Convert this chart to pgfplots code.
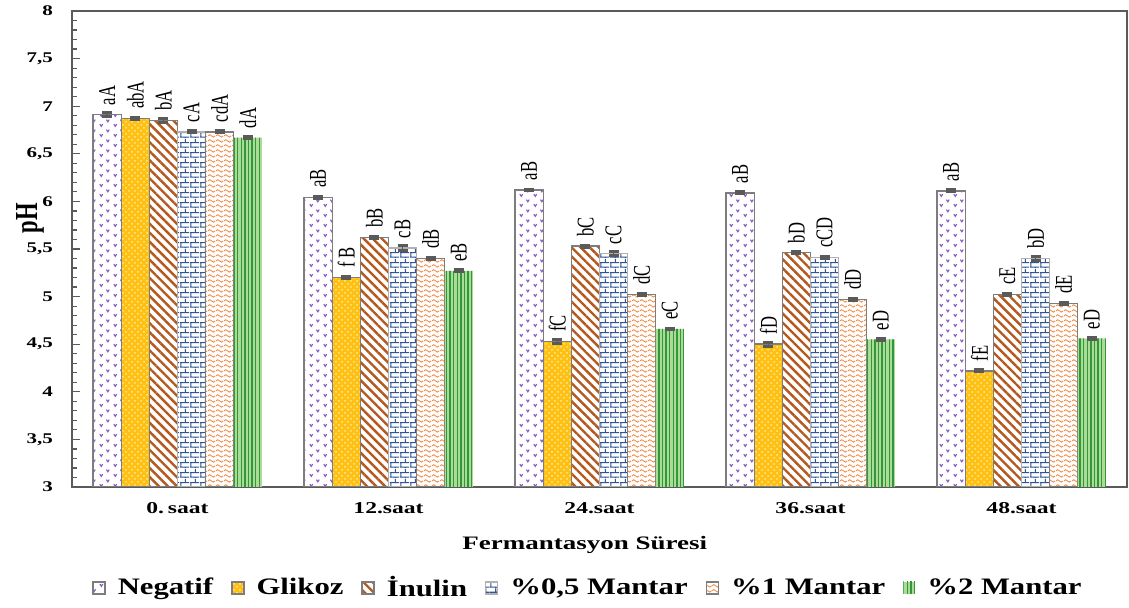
\documentclass[border=0pt]{standalone}
\usepackage{pgfplots}
\pgfplotsset{compat=1.18}
\usepackage{pgfplotstable}
\usepackage{fontspec}
\setmainfont{Liberation Serif}
\usetikzlibrary{patterns,patterns.meta}

\definecolor{cpurple}{RGB}{140,90,200}
\definecolor{cgold}{RGB}{255,192,20}
\definecolor{cgoldlt}{RGB}{255,232,150}
\definecolor{cbrown}{RGB}{180,88,30}
\definecolor{cblue}{RGB}{47,85,151}
\definecolor{corange}{RGB}{240,140,70}
\definecolor{cgreen}{RGB}{50,150,60}
\definecolor{cgreenlt}{RGB}{170,220,150}
\definecolor{cedge}{RGB}{125,125,125}
\definecolor{caxis}{RGB}{90,90,90}

\pgfplotsset{
  sqlegend/.style={legend image code/.code={\draw[##1] (0pt,-3pt) rectangle (6pt,3pt);}},
  sqlegendfill/.style={legend image code/.code={\fill[##1] (0pt,-3pt) rectangle (6pt,3pt);}},
}

\pgfdeclarepattern{
  name=vchev, type=uncolored,
  bottom left={\pgfpoint{0pt}{0pt}}, top right={\pgfpoint{7pt}{5pt}},
  tile size={\pgfpoint{7pt}{5pt}},
  code={
    \pgfsetlinewidth{0.6pt}
    \pgfpathmoveto{\pgfpoint{1.0pt}{2.1pt}}\pgfpathlineto{\pgfpoint{1.75pt}{0.9pt}}\pgfpathlineto{\pgfpoint{2.5pt}{2.1pt}}
    \pgfpathmoveto{\pgfpoint{4.5pt}{4.6pt}}\pgfpathlineto{\pgfpoint{5.25pt}{3.4pt}}\pgfpathlineto{\pgfpoint{6.0pt}{4.6pt}}
    \pgfusepath{stroke}
  }
}
\pgfdeclarepattern{
  name=waves, type=uncolored,
  bottom left={\pgfpoint{0pt}{0pt}}, top right={\pgfpoint{4pt}{2.5pt}},
  tile size={\pgfpoint{4pt}{2.5pt}},
  code={
    \pgfsetlinewidth{0.5pt}
    \pgfpathmoveto{\pgfpoint{0pt}{1.25pt}}
    \pgfpathcurveto{\pgfpoint{1pt}{2.2pt}}{\pgfpoint{1pt}{2.2pt}}{\pgfpoint{2pt}{1.25pt}}
    \pgfpathcurveto{\pgfpoint{3pt}{0.3pt}}{\pgfpoint{3pt}{0.3pt}}{\pgfpoint{4pt}{1.25pt}}
    \pgfusepath{stroke}
  }
}
\pgfdeclarepattern{
  name=mybricks, type=uncolored,
  bottom left={\pgfpoint{0pt}{0pt}}, top right={\pgfpoint{5pt}{5pt}},
  tile size={\pgfpoint{5pt}{5pt}},
  code={
    \pgfsetlinewidth{0.55pt}
    \pgfpathmoveto{\pgfpoint{0pt}{0.5pt}}\pgfpathlineto{\pgfpoint{5pt}{0.5pt}}
    \pgfpathmoveto{\pgfpoint{0pt}{3.0pt}}\pgfpathlineto{\pgfpoint{5pt}{3.0pt}}
    \pgfpathmoveto{\pgfpoint{0.5pt}{0.5pt}}\pgfpathlineto{\pgfpoint{0.5pt}{3.0pt}}
    \pgfpathmoveto{\pgfpoint{3.0pt}{3.0pt}}\pgfpathlineto{\pgfpoint{3.0pt}{5pt}}
    \pgfpathmoveto{\pgfpoint{3.0pt}{0pt}}\pgfpathlineto{\pgfpoint{3.0pt}{0.5pt}}
    \pgfusepath{stroke}
  }
}

\pgfplotstableread{
x y e lab
0 6.91 0.02 aA
1 6.04 0.01 aB
2 6.12 0.01 aB
3 6.09 0.01 aB
4 6.11 0.01 aB
}\tneg
\pgfplotstableread{
x y e lab
0 6.87 0.01 abA
1 5.20 0.01 f~B
2 4.53 0.02 fC
3 4.50 0.02 fD
4 4.22 0.01 fE
}\tgli
\pgfplotstableread{
x y e lab
0 6.85 0.02 bA
1 5.62 0.01 bB
2 5.53 0.01 bC
3 5.46 0.01 bD
4 5.02 0.01 cE
}\tinu
\pgfplotstableread{
x y e lab
0 6.73 0.01 cA
1 5.51 0.03 cB
2 5.45 0.02 cC
3 5.41 0.01 cCD
4 5.40 0.02 bD
}\tmanA
\pgfplotstableread{
x y e lab
0 6.73 0.01 cdA
1 5.40 0.01 dB
2 5.02 0.01 dC
3 4.97 0.01 dD
4 4.93 0.01 dE
}\tmanB
\pgfplotstableread{
x y e lab
0 6.67 0.01 dA
1 5.27 0.01 eB
2 4.66 0.01 eC
3 4.55 0.01 eD
4 4.56 0.01 eD
}\tmanC

\begin{document}
\begin{tikzpicture}
\begin{axis}[
  name=ax,
  scale only axis,
  width=527.5pt, height=238pt,
  xmin=-0.5, xmax=4.5, ymin=3, ymax=8,
  ybar=0pt, bar width=0.1333,
  xtick={0,1,2,3,4},
  xticklabels={\scalebox{1.42}[1]{0.\,saat},\scalebox{1.42}[1]{12.saat},\scalebox{1.42}[1]{24.saat},\scalebox{1.42}[1]{36.saat},\scalebox{1.42}[1]{48.saat}},
  x tick style={draw=none},
  ytick={3,3.5,4,4.5,5,5.5,6,6.5,7,7.5,8},
  minor y tick num=4,
  ytick pos=left,
  tick align=inside,
  major tick length=4pt, minor tick length=2.5pt,
  y tick style={caxis, line width=0.6pt},
  axis line style={caxis, line width=1pt},
  /pgf/number format/.cd, use comma, assume math mode=true, /pgfplots/.cd,
  yticklabel={\scalebox{1.42}[1]{\pgfmathprintnumber{\tick}}},
  yticklabel style={font=\bfseries\fontsize{7.4}{8}\selectfont, anchor=east, xshift=-6pt},
  xticklabel style={font=\bfseries\fontsize{8.3}{10}\selectfont, anchor=center, yshift=-10.5pt},
  ylabel={\scalebox{1}[1.42]{pH}},
  ylabel style={at={(axis description cs:-0.0398,0.565)}, anchor=center, font=\bfseries\fontsize{11.3}{13}\selectfont},
  xlabel={\scalebox{1.42}[1]{Fermantasyon Süresi}},
  xlabel style={at={(axis description cs:0.486,-0.122)}, anchor=center, font=\bfseries\fontsize{9.5}{11}\selectfont},
  legend columns=6,
  legend style={at={(0.49,-0.212)}, anchor=center, draw=none, fill=none,
    font=\bfseries\fontsize{11.8}{13}\selectfont,
    /tikz/every odd column/.append style={column sep=4pt},
    /tikz/every even column/.append style={column sep=7pt}},
  point meta=explicit symbolic,
  nodes near coords={\scalebox{1}[1.45]{\pgfplotspointmeta}},
  nodes near coords align=horizontal,
  every node near coord/.append style={yshift=3.5pt, rotate=90, anchor=west, text=black, inner sep=1pt, font=\fontsize{8.3}{9}\selectfont},
  error bars/y dir=both, error bars/y explicit,
  error bars/error bar style={caxis, line width=0.7pt},
  error bars/error mark options={rotate=90, caxis, line width=1.5pt, mark size=2.5pt},
]
\addplot[draw=cedge, line width=0.7pt, fill=white, postaction={pattern=vchev, pattern color=cpurple}, sqlegend]
  table[x=x,y=y,y error=e,meta=lab]{\tneg};
\addplot[draw=cedge, line width=0.7pt, fill=cgold, postaction={pattern=crosshatch dots, pattern color=cgoldlt}, sqlegend]
  table[x=x,y=y,y error=e,meta=lab]{\tgli};
\addplot[draw=cedge, line width=0.7pt, fill=white, postaction={pattern={Lines[angle=-45,distance=3.2pt,line width=1.2pt]}, pattern color=cbrown}, sqlegend]
  table[x=x,y=y,y error=e,meta=lab]{\tinu};
\addplot[draw=cedge!60, line width=0.7pt, fill=white, postaction={pattern=mybricks, pattern color=cblue}, sqlegend]
  table[x=x,y=y,y error=e,meta=lab]{\tmanA};
\addplot[draw=cedge, line width=0.7pt, fill=white, postaction={pattern=waves, pattern color=corange}, sqlegend]
  table[x=x,y=y,y error=e,meta=lab]{\tmanB};
\addplot[draw=none, fill=cgreenlt, postaction={pattern={Lines[angle=90,distance=1.8pt,line width=0.7pt]}, pattern color=cgreen}, sqlegendfill]
  table[x=x,y=y,y error=e,meta=lab]{\tmanC};
\legend{\scalebox{1.3}[1]{Negatif},\scalebox{1.3}[1]{Glikoz},\scalebox{1.3}[1]{İnulin},\scalebox{1.3}[1]{\%0,5 Mantar},\scalebox{1.3}[1]{\%1 Mantar},\scalebox{1.3}[1]{\%2 Mantar}}
\end{axis}
\pgfresetboundingbox
\path[use as bounding box] ([xshift=-36pt,yshift=-60.5pt]ax.south west) rectangle ([xshift=1pt,yshift=5.5pt]ax.north east);
\end{tikzpicture}
\end{document}
